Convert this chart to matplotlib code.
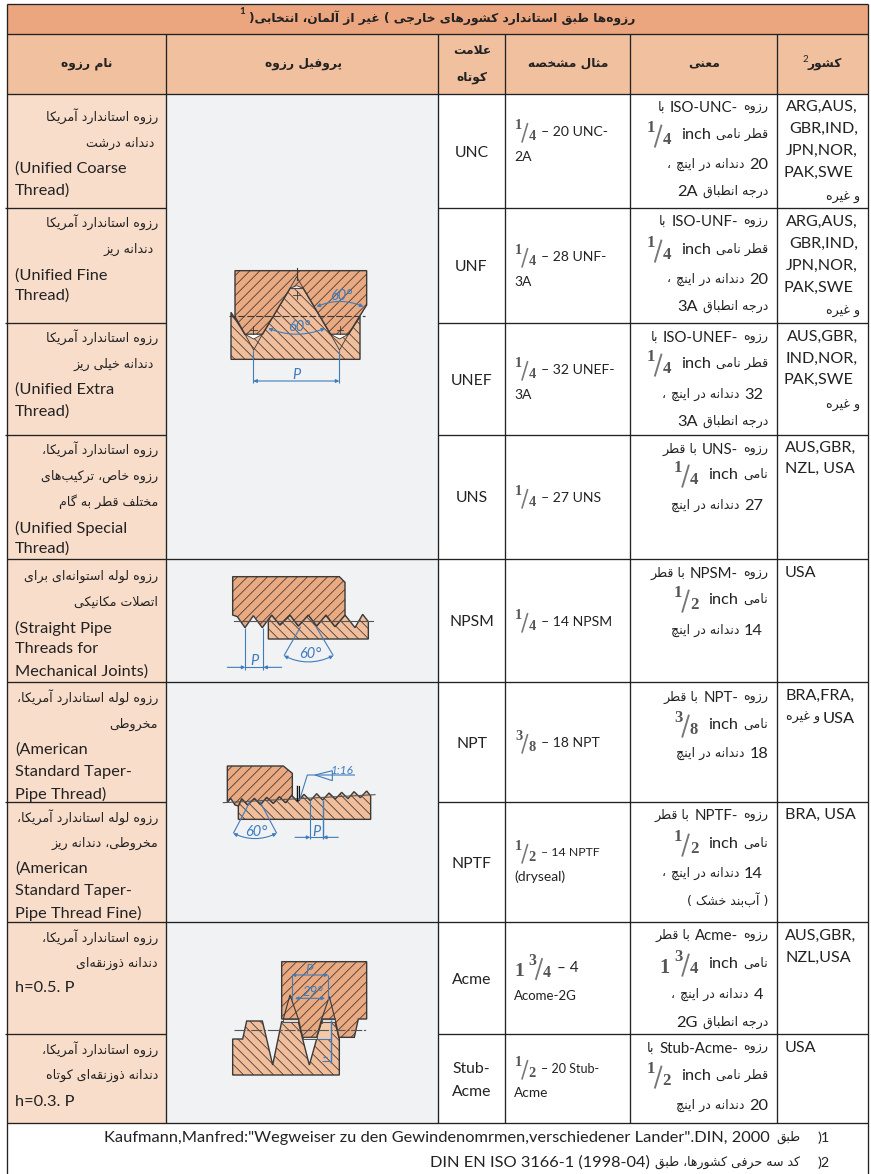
import re
import numpy as np
import matplotlib
matplotlib.use('Agg')
import matplotlib.pyplot as plt
from matplotlib.collections import LineCollection
from matplotlib.patches import Polygon, Rectangle, FancyArrowPatch
from matplotlib.path import Path

# text of the table
title_text = "رزوه‌ها طبق استاندارد کشورهای خارجی ( غیر از آلمان، انتخابی)"
header_text = ["نام رزوه", "پروفیل رزوه", "علامت", "کوتاه", "مثال مشخصه", "معنی", "کشور"]

name_text = [
    ["رزوه استاندارد آمریکا", "دندانه درشت", "(Unified Coarse", "Thread)"],
    ["رزوه استاندارد آمریکا", "دندانه ریز", "(Unified Fine", "Thread)"],
    ["رزوه استاندارد آمریکا", "دندانه خیلی ریز", "(Unified Extra", "Thread)"],
    ["رزوه استاندارد آمریکا،", "رزوه خاص، ترکیب‌های", "مختلف قطر به گام", "(Unified Special", "Thread)"],
    ["رزوه لوله استوانه‌ای برای", "اتصلات مکانیکی", "(Straight Pipe", "Threads for", "Mechanical Joints)"],
    ["رزوه لوله استاندارد آمریکا،", "مخروطی", "(American", "Standard Taper-", "Pipe Thread)"],
    ["رزوه لوله استاندارد آمریکا،", "مخروطی، دندانه ریز", "(American", "Standard Taper-", "Pipe Thread Fine)"],
    ["رزوه استاندارد آمریکا،", "دندانه ذوزنقه‌ای", "h=0.5. P"],
    ["رزوه استاندارد آمریکا،", "دندانه ذوزنقه‌ای کوتاه", "h=0.3. P"],
]
name_y = [
    [116, 143, 168, 190], [222, 249, 275, 295], [337, 364, 389, 411],
    [449, 476, 502, 527, 548], [576, 602, 627, 648, 671], [697, 724, 749, 771, 793],
    [817, 843, 868, 890, 912], [937, 963, 987], [1049, 1075, 1101],
]

abbr_text = ["UNC", "UNF", "UNEF", "UNS", "NPSM", "NPT", "NPTF", "Acme", "Stub-", "Acme"]
abbr_y = [152, 266, 380, 497, 621, 743, 863, 979, 1068, 1091]

example_text = [
    ["1/4|– 20 UNC-", "2A"], ["1/4|– 28 UNF-", "3A"], ["1/4|– 32 UNEF-", "3A"],
    ["1/4|– 27 UNS"], ["1/4|– 14 NPSM"], ["3/8|– 18 NPT"],
    ["1/2|– 14 NPTF", "(dryseal)"], ["1 3/4|– 4", "Acome-2G"], ["1/2|– 20 Stub-", "Acme"],
]
example_y = [[131, 156], [256, 281], [369, 394], [497], [621], [742], [852, 876], [967, 995], [1068, 1092]]
example_size = [10.1, 10.1, 10.1, 10.1, 10.1, 10.1, 8.9, 11.0, 9.0]
example_size2 = [10.0, 10.0, 10.0, 10.0, 10.0, 10.0, 10.0, 9.5, 9.8]

meaning_text = [
    ["رزوه|ISO-UNC-|با", "قطر نامی|inch|1/4", "20|دندانه در اینچ|،", "درجه انطباق|2A"],
    ["رزوه|ISO-UNF-|با", "قطر نامی|inch|1/4", "20|دندانه در اینچ|،", "درجه انطباق|3A"],
    ["رزوه|ISO-UNEF-|با", "قطر نامی|inch|1/4", "32|دندانه در اینچ|،", "درجه انطباق|3A"],
    ["رزوه|UNS-|با قطر", "نامی|inch|1/4", "27|دندانه در اینچ"],
    ["رزوه|NPSM-|با قطر", "نامی|inch|1/2", "14|دندانه در اینچ"],
    ["رزوه|NPT-|با قطر", "نامی|inch|3/8", "18|دندانه در اینچ"],
    ["رزوه|NPTF-|با قطر", "نامی|inch|1/2", "14|دندانه در اینچ|،", ") آب‌بند خشک ("],
    ["رزوه|Acme-|با قطر", "نامی|inch|1 3/4", "4|دندانه در اینچ|،", "درجه انطباق|2G"],
    ["رزوه|Stub-Acme-|با", "قطر نامی|inch|1/2", "20|دندانه در اینچ"],
]
meaning_y = [
    [107, 134, 164, 191], [221, 249, 279, 306], [337, 363, 394, 421],
    [449, 474, 505], [573, 599, 630], [697, 724, 753],
    [815, 843, 873, 900], [935, 963, 994, 1022], [1048, 1075, 1105],
]
meaning_right = [
    [768, 768, 768, 768], [768, 768, 768, 768], [768, 768, 763, 768],
    [768, 768, 763], [768, 768, 763], [768, 768, 768],
    [768, 768, 763, 768], [768, 768, 763, 768], [768, 768, 768],
]

country_text = [
    ["ARG,AUS,", "GBR,IND,", "JPN,NOR,", "PAK,SWE", "و غیره"],
    ["ARG,AUS,", "GBR,IND,", "JPN,NOR,", "PAK,SWE", "و غیره"],
    ["AUS,GBR,", "IND,NOR,", "PAK,SWE", "و غیره"],
    ["AUS,GBR,", "NZL, USA"],
    ["USA"],
    ["BRA,FRA,", "USA|و غیره"],
    ["BRA, USA"],
    ["AUS,GBR,", "NZL,USA"],
    ["USA"],
]
country_y = [
    [106, 128, 150, 172, 197], [221, 243, 265, 287, 311], [336, 358, 379, 405],
    [447, 468], [572], [695, 718], [814], [935, 957], [1047],
]

foot_latin = ['Kaufmann,Manfred:"Wegweiser zu den Gewindenomrmen,verschiedener Lander".DIN, 2000',
              'DIN EN ISO 3166-1 (1998-04)']
foot_fa = ["طبق", "کد سه حرفی کشورها، طبق"]

# table geometry, pixels
col_x = [6.5, 166, 438, 504.5, 629.5, 776.5, 868]
row_y = [33.5, 93.5, 208, 323, 435, 559, 682, 802, 922, 1034, 1123]

# thread drawings, in 3x crop units
unc_upper = [(105, 47), (500, 47), (500, 150), (445, 238), (392, 238), (310, 100), (270, 100),
             (187, 238), (135, 238), (105, 185)]
unc_lower = [(93, 172), (135, 238), (187, 238), (270, 100), (310, 100), (392, 238), (445, 238),
             (480, 185), (480, 313), (93, 313)]
npsm_upper = [(98, 35), (418, 35), (435, 52), (435, 150), (405, 185), (378, 150), (350, 183), (325, 150),
              (295, 183), (270, 150), (240, 180), (215, 150), (187, 188), (160, 152), (135, 188), (112, 155), (98, 150)]
npsm_lower = [(205, 165), (215, 150), (240, 180), (270, 150), (295, 183), (325, 150), (350, 183), (378, 150),
              (405, 185), (435, 150), (465, 188), (488, 148), (505, 170), (505, 222), (205, 222)]
npt_teeth = [(115, 168), (125, 146), (143, 165), (163, 145), (182, 163), (200, 142), (220, 160), (238, 140),
             (257, 158), (275, 136), (293, 155), (312, 133), (331, 152), (350, 131), (368, 150), (387, 129),
             (406, 147), (425, 127), (444, 146), (462, 125), (481, 143), (500, 123), (512, 138)]
npt_upper = [(82, 48), (250, 48), (277, 70), (277, 136)] + npt_teeth[9::-1] + [(105, 165), (92, 145), (82, 158)]
npt_lower = npt_teeth + [(512, 208), (115, 208)]
acme_upper = [(185, 35), (440, 35), (440, 207), (415, 207), (403, 262), (357, 262), (345, 207), (305, 207),
              (290, 262), (248, 262), (235, 207), (185, 207)]
acme_lower = [(38, 267), (68, 267), (80, 213), (127, 213), (140, 267), (158, 345), (185, 215), (235, 215),
              (248, 267), (268, 345), (290, 267), (305, 215), (345, 215), (358, 267), (358, 375), (38, 375)]

DARK = '#222222'
LINE = '#3a3a3a'
BLUE = '#3f7cbd'
UPPER = '#e9a981'
LOWER = '#f1be9c'
LATIN = 'Lato'
ARABIC = 'DejaVu Sans'
SERIF = 'Liberation Serif'
FA = 9.1
EN = 11.8

# letter -> first presentation code point, number of forms (2 = joins on the right only)
FORMS = {
    'ا': (0xFE8D, 2), 'آ': (0xFE81, 2), 'ب': (0xFE8F, 4), 'پ': (0xFB56, 4), 'ت': (0xFE95, 4), 'ث': (0xFE99, 4),
    'ج': (0xFE9D, 4), 'چ': (0xFB7A, 4), 'ح': (0xFEA1, 4), 'خ': (0xFEA5, 4), 'د': (0xFEA9, 2), 'ذ': (0xFEAB, 2),
    'ر': (0xFEAD, 2), 'ز': (0xFEAF, 2), 'ژ': (0xFB8A, 2), 'س': (0xFEB1, 4), 'ش': (0xFEB5, 4), 'ص': (0xFEB9, 4),
    'ض': (0xFEBD, 4), 'ط': (0xFEC1, 4), 'ظ': (0xFEC5, 4), 'ع': (0xFEC9, 4), 'غ': (0xFECD, 4), 'ف': (0xFED1, 4),
    'ق': (0xFED5, 4), 'ک': (0xFB8E, 4), 'گ': (0xFB92, 4), 'ل': (0xFEDD, 4), 'م': (0xFEE1, 4), 'ن': (0xFEE5, 4),
    'ه': (0xFEE9, 4), 'و': (0xFEED, 2), 'ی': (0xFBFC, 4),
}


def shape(s):
    # matplotlib has no arabic shaping, so pick the joined forms and reverse
    s = s.replace('لا', '\ufefb').replace('لآ', '\ufef5')
    out = []
    for i, c in enumerate(s):
        prev = s[i-1] if i > 0 else ''
        nxt = s[i+1] if i < len(s)-1 else ''
        if c in '\ufefb\ufef5':
            joined = prev in FORMS and FORMS[prev][1] == 4
            out.append(chr(ord(c) + 1) if joined else c)
            continue
        if c == '\u200c':
            continue
        if c not in FORMS:
            out.append(c)
            continue
        base, n = FORMS[c]
        before = prev in FORMS and FORMS[prev][1] == 4
        after = n == 4 and (nxt in FORMS or nxt in '\ufefb\ufef5') and nxt != ''
        if before and after:
            out.append(chr(base + 3))
        elif before:
            out.append(chr(base + 1))
        elif after:
            out.append(chr(base + 2))
        else:
            out.append(chr(base))
    return ''.join(reversed(out))


def is_fa(s):
    return re.search('[\u0600-\u06ff]', s) is not None


fig = plt.figure(figsize=(8.71, 11.74), dpi=100, facecolor='white')
ax = fig.add_axes([0, 0, 1, 1])
ax.set_xlim(0, 871)
ax.set_ylim(1174, 0)
ax.axis('off')
renderer = fig.canvas.get_renderer()


def put(x, y, s, size=EN, ha='left', family=LATIN, color=DARK, weight='normal', style='normal', zorder=6):
    if is_fa(s):
        s = shape(s)
        family = ARABIC
    elif family == LATIN:
        y += 1
    return ax.text(x, y, s, fontsize=size, ha=ha, va='center', family=family, color=color,
                   weight=weight, style=style, zorder=zorder)


def frac_width(tok, scale):
    w = 26 * scale
    if ' ' in tok:
        w += 13 * scale
    return w


def put_frac(x, y, tok, scale=1.0):
    if ' ' in tok:
        whole, tok = tok.split(' ')
        put(x, y + 5 * scale, whole, size=14 * scale, family=SERIF, weight='bold', color='#555555')
        x += 13 * scale
    n, d = tok.split('/')
    put(x + 1, y - 6 * scale, n, size=11.5 * scale, family=SERIF, weight='bold', color='#555555')
    ax.plot([x + 9 * scale, x + 15 * scale], [y + 12 * scale, y - 8 * scale], color='#777777', lw=1.3 * scale, zorder=6)
    put(x + 16 * scale, y + 6 * scale, d, size=11.5 * scale, family=SERIF, weight='bold', color='#555555')


def put_runs(x, y, line, fa_size=FA, gap=5.0, scale=1.0):
    # runs go from right to left, as they are read
    for tok in line.split('|'):
        if re.fullmatch(r'(\d )?\d/\d', tok):
            w = frac_width(tok, scale)
            x -= 3
            put_frac(x - w, y, tok, scale)
            x -= w + gap
        else:
            en_size = 10.8 if '-' in tok else 11.8
            t = put(x, y, tok, size=fa_size if is_fa(tok) else en_size, ha='right')
            x -= t.get_window_extent(renderer).width + gap


def z(pts, x0, y0):
    return [(x0 + a / 3, y0 + b / 3) for a, b in pts]


def hatched(pts, fill, slope, step=10):
    poly = Polygon(pts, closed=True, facecolor=fill, edgecolor=LINE, lw=1.0, zorder=3, joinstyle='miter')
    ax.add_patch(poly)
    xs = [p[0] for p in pts]
    ys = [p[1] for p in pts]
    h = max(ys) - min(ys)
    starts = np.arange(min(xs) - h - 5, max(xs) + h + 5, step)
    segs = [[(s, max(ys)), (s + slope * h, min(ys))] for s in starts]
    lc = LineCollection(segs, colors='#3d3330', linewidths=0.55, zorder=3.5)
    ax.add_collection(lc)
    lc.set_clip_path(poly)


def blue_line(pts, lw=0.8):
    a = np.array(pts)
    ax.plot(a[:, 0], a[:, 1], color=BLUE, lw=lw, zorder=5, solid_capstyle='butt')


def blue_arrow(a, b, style='-|>'):
    ax.add_patch(FancyArrowPatch(a, b, arrowstyle=style, mutation_scale=5, color=BLUE, lw=0.8,
                                 shrinkA=0, shrinkB=0, zorder=5))


def blue_arc(a, mid, b):
    ctrl = (2 * mid[0] - (a[0] + b[0]) / 2, 2 * mid[1] - (a[1] + b[1]) / 2)
    p = Path([a, ctrl, b], [Path.MOVETO, Path.CURVE3, Path.CURVE3])
    ax.add_patch(FancyArrowPatch(path=p, arrowstyle='<|-|>', mutation_scale=5, color=BLUE, lw=0.8, zorder=5))


def blue_text(x, y, s, size=10.5):
    ax.text(x, y, s, fontsize=size, ha='center', va='center', family=LATIN, style='italic', color=BLUE, zorder=6)


# cell backgrounds
top, head, bot = 3.5, row_y[0], row_y[1]
ax.add_patch(Rectangle((col_x[0], top), col_x[-1] - col_x[0], head - top, fc='#eba680', ec='none', zorder=1))
ax.add_patch(Rectangle((col_x[0], head), col_x[-1] - col_x[0], bot - head, fc='#f1c19f', ec='none', zorder=1))
ax.add_patch(Rectangle((col_x[0], bot), col_x[1] - col_x[0], row_y[-1] - bot, fc='#f9ddcb', ec='none', zorder=1))
ax.add_patch(Rectangle((col_x[1], bot), col_x[2] - col_x[1], row_y[-1] - bot, fc='#f1f2f4', ec='none', zorder=1))

# grid
ax.vlines([col_x[0], col_x[-1]], top, 1174, color=DARK, lw=0.95, zorder=2)
ax.vlines(col_x[1:-1], head, row_y[-1], color=DARK, lw=0.95, zorder=2)
ax.hlines([top, head, bot, 559, 682, 922, row_y[-1]], col_x[0], col_x[-1], color=DARK, lw=0.95, zorder=2)
for y in [208, 323, 435, 802, 1034]:
    ax.hlines(y, 5, col_x[1], color=DARK, lw=0.95, zorder=2)
    ax.hlines(y, col_x[2], col_x[-1], color=DARK, lw=0.95, zorder=2)

# title and header
put(635, 18.5, title_text, size=8.85, ha='right', weight='bold')
put(242, 11, '1', size=7, weight='bold', ha='center', family='Lato')
header_pos = [(87, 63), (303, 64), (472, 50), (472, 77), (568, 63), (704, 64), (825, 63)]
for s, (x, y) in zip(header_text, header_pos):
    put(x, y, s, size=8.8, ha='center', weight='bold')
put(805, 58, '2', size=7, ha='center')

# columns
for row, lines in enumerate(name_text):
    for line, y in zip(lines, name_y[row]):
        if is_fa(line):
            right = 154 if (row < 3 and line.startswith('دندانه')) else 158
            put(right, y, line, size=FA, ha='right')
        else:
            put(15, y, line)

for s, y in zip(abbr_text, abbr_y):
    put(471.5, y, s, size=11.3, ha='center')

for row, lines in enumerate(example_text):
    for i, (line, y) in enumerate(zip(lines, example_y[row])):
        if '|' in line:
            tok, rest = line.split('|')
            scale = 1.0 if ' ' in tok else 0.9
            put_frac(514, y, tok, scale)
            put(514 + frac_width(tok, scale) + 3.5, y, rest, size=example_size[row])
        else:
            put(514, y, line, size=example_size2[row])

for row, lines in enumerate(meaning_text):
    for line, y, right in zip(lines, meaning_y[row], meaning_right[row]):
        put_runs(right, y, line, scale=1.05)

for row, lines in enumerate(country_text):
    for line, y in zip(lines, country_y[row]):
        if is_fa(line):
            put_runs(860 if row < 3 else 855, y, line, gap=3)
        elif row < 3:
            put(853 if line.endswith('E') else 858, y, line, size=11.6, ha='right')
        else:
            put(785, y, line, size=11.6)

# footnotes
put(830, 1137, ')1', size=10.4, ha='right')
put(830, 1162, ')2', size=10.4, ha='right')
put(800, 1137, foot_fa[0], size=9.0, ha='right')
put(800, 1162, foot_fa[1], size=9.0, ha='right')
put(770, 1137, foot_latin[0], ha='right')
put(650, 1162, foot_latin[1], ha='right')

# UNC / UNF / UNEF / UNS drawing
x0, y0 = 200, 255
hatched(z(unc_lower, x0, y0), LOWER, -1.0)
hatched(z(unc_upper, x0, y0), UPPER, 1.0)
for a, b in [(135, 187), (392, 445)]:
    ax.add_patch(Polygon(z([(a, 238), ((a + b) / 2, 252), (b, 238)], x0, y0), fc='white', ec=LINE, lw=0.6, zorder=4))
    ax.plot(*zip(*z([(a, 238), ((a + b) / 2, 285), (b, 238)], x0, y0)), color=LINE, lw=0.6, zorder=4)
ax.add_patch(Polygon(z([(270, 100), (290, 92), (310, 100)], x0, y0), fc='white', ec=LINE, lw=0.6, zorder=4))
ax.plot(*zip(*z([(270, 100), (290, 65), (310, 100)], x0, y0)), color=LINE, lw=0.6, zorder=4)
ax.plot(*zip(*z([(290, 40), (290, 75)], x0, y0)), color=LINE, lw=0.8, zorder=4)
ax.plot(*zip(*z([(88, 182), (495, 182)], x0, y0)), color=LINE, lw=0.8, ls=(0, (6, 2)), zorder=4)
for px, py in [(160, 225), (290, 120), (420, 225)]:
    ax.plot(*zip(*z([(px - 10, py), (px + 10, py)], x0, y0)), color=LINE, lw=0.6, zorder=4)
    ax.plot(*zip(*z([(px, py - 12), (px, py + 12)], x0, y0)), color=LINE, lw=0.6, zorder=4)
blue_line(z([(160, 285), (160, 385)], x0, y0))
blue_line(z([(418, 285), (418, 385)], x0, y0))
a, b = z([(160, 378), (418, 378)], x0, y0)
blue_arrow(a, b, '<|-|>')
blue_text(x0 + 290 / 3, y0 + 360 / 3, 'P')
a, m, b = z([(205, 220), (290, 237), (375, 220)], x0, y0)
blue_arc(a, m, b)
a, m, b = z([(350, 155), (420, 140), (490, 155)], x0, y0)
blue_arc(a, m, b)
blue_text(x0 + 297 / 3, y0 + 217 / 3, '60°')
blue_text(x0 + 425 / 3, y0 + 122 / 3, '60°')

# NPSM drawing
x0, y0 = 200, 565
hatched(z(npsm_lower, x0, y0), LOWER, -1.0)
hatched(z(npsm_upper, x0, y0), UPPER, 1.0)
ax.plot(*zip(*z([(103, 167), (520, 167)], x0, y0)), color='#555555', lw=0.8, zorder=4)
blue_line(z([(136, 188), (136, 315)], x0, y0))
blue_line(z([(190, 188), (190, 315)], x0, y0))
blue_line(z([(136, 307), (190, 307)], x0, y0))
a, b = z([(82, 307), (136, 307)], x0, y0)
blue_arrow(a, b)
a, b = z([(245, 307), (190, 307)], x0, y0)
blue_arrow(a, b)
blue_text(x0 + 163 / 3, y0 + 288 / 3, 'P')
blue_line(z([(302, 185), (252, 272)], x0, y0))
blue_line(z([(348, 185), (400, 272)], x0, y0))
a, m, b = z([(252, 272), (325, 290), (400, 272)], x0, y0)
blue_arc(a, m, b)
blue_text(x0 + 330 / 3, y0 + 267 / 3, '60°')

# NPT / NPTF drawing
x0, y0 = 200, 750
hatched(z(npt_lower, x0, y0), LOWER, -1.0)
hatched(z(npt_upper, x0, y0), UPPER, 1.0)
ax.plot(*zip(*z([(70, 158), (525, 134)], x0, y0)), color='#555555', lw=0.8, zorder=4)
ax.plot(*zip(*z([(290, 108), (290, 150)], x0, y0)), color='#111111', lw=1.0, zorder=5)
ax.plot(*zip(*z([(296, 108), (296, 150)], x0, y0)), color='#111111', lw=0.8, zorder=5)
blue_line(z([(298, 152), (322, 75), (465, 75)], x0, y0))
ax.add_patch(Polygon(z([(345, 75), (397, 62), (397, 92)], x0, y0), fc='none', ec=BLUE, lw=0.8, zorder=5))
blue_text(x0 + 428 / 3, y0 + 60 / 3, '1:16', 8.5)
blue_line(z([(150, 155), (100, 250)], x0, y0))
blue_line(z([(180, 155), (230, 250)], x0, y0))
a, m, b = z([(100, 250), (165, 265), (230, 250)], x0, y0)
blue_arc(a, m, b)
blue_text(x0 + 168 / 3, y0 + 247 / 3, '60°')
blue_line(z([(331, 150), (331, 268)], x0, y0))
blue_line(z([(369, 150), (369, 268)], x0, y0), lw=1.0)
blue_line(z([(331, 262), (369, 262)], x0, y0))
a, b = z([(285, 262), (331, 262)], x0, y0)
blue_arrow(a, b)
a, b = z([(415, 262), (369, 262)], x0, y0)
blue_arrow(a, b)
blue_text(x0 + 350 / 3, y0 + 245 / 3, 'P')

# Acme drawing
x0, y0 = 220, 950
hatched(z(acme_lower, x0, y0), LOWER, -1.0)
hatched(z(acme_upper, x0, y0), UPPER, 1.0)
ax.add_patch(Polygon(z([(305, 222), (335, 222), (335, 267), (292, 267)], x0, y0), fc='#f3c9aa', ec='none', zorder=3.8))
ax.plot(*zip(*z([(190, 207), (210, 135), (235, 207)], x0, y0)), color=LINE, lw=0.8, zorder=4)
ax.plot(*zip(*z([(305, 207), (328, 140), (345, 207)], x0, y0)), color=LINE, lw=0.8, zorder=4)
for a, b in [(190, 235), (305, 345)]:
    ax.add_patch(Rectangle((x0 + a / 3, y0 + 207 / 3), (b - a) / 3, 8 / 3, fc='#dddddd', ec=LINE, lw=0.6, zorder=4))
ax.add_patch(Rectangle((x0 + 248 / 3, y0 + 262 / 3), 42 / 3, 5 / 3, fc='#dddddd', ec=LINE, lw=0.6, zorder=4))
ax.plot(*zip(*z([(42, 240), (440, 240)], x0, y0)), color='#555555', lw=0.8, ls=(0, (10, 1.5, 2, 1.5)), zorder=4)
blue_line(z([(215, 150), (215, 75)], x0, y0))
blue_line(z([(325, 150), (325, 75)], x0, y0))
a, b = z([(215, 75), (325, 75)], x0, y0)
blue_arrow(a, b, '<|-|>')
a, b = z([(225, 145), (315, 145)], x0, y0)
blue_arrow(a, b, '<|-|>')
blue_text(x0 + 268 / 3, y0 + 60 / 3, 'P', 9.5)
blue_text(x0 + 278 / 3, y0 + 125 / 3, '29°', 9.5)
blue_line(z([(333, 210), (333, 340)], x0, y0), lw=1.0)
blue_line(z([(290, 267), (333, 267)], x0, y0))
blue_line(z([(305, 332), (333, 332)], x0, y0))
blue_line(z([(310, 320), (320, 320)], x0, y0))

fig.savefig('out.png', dpi=100, facecolor='white')
